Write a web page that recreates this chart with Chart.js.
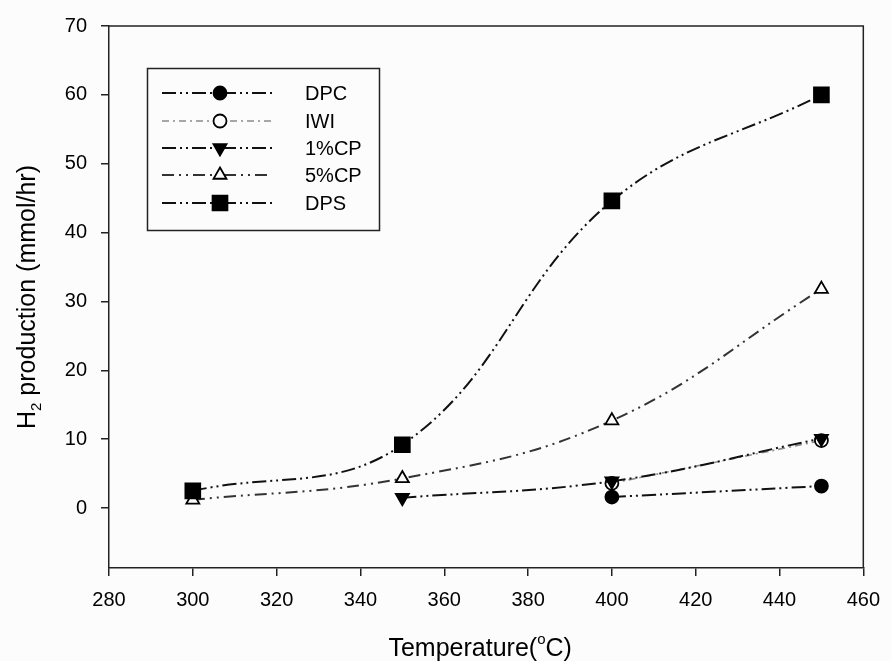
<!DOCTYPE html>
<html lang="en">

<head>
    <meta charset="UTF-8">
    <title>H2 production vs temperature</title>
    <script src="https://cdn.jsdelivr.net/npm/chart.js"></script>
    <style>
        body {
            margin: 0;
            background: #fcfcfc;
        }

        #wrap {
            width: 892px;
            height: 661px;
        }
    </style>
</head>

<body>
    <div id="wrap">
        <canvas id="h2Chart"></canvas>
    </div>

    <script>
        // temperatures (°C) and H2 production (mmol/hr), null = not measured
        const temps = [300, 350, 400, 450];
        const dpc = [null, null, 1.6, 3.2];
        const iwi = [null, null, 3.6, 9.8];
        const cp1 = [null, 1.5, 3.9, 10.1];
        const cp5 = [1.2, 4.3, 12.7, 31.8];
        const dps = [2.5, 9.2, 44.6, 60.0];
        const xTicks = [280, 300, 320, 340, 360, 380, 400, 420, 440, 460];
        const yTicks = [0, 10, 20, 30, 40, 50, 60, 70];

        const FONT = '"Liberation Sans", Arial, sans-serif';

        function pts(vals) {
            return temps.map((t, i) => ({ x: t, y: vals[i] })).filter(p => p.y !== null);
        }

        function series(label, vals, style, opts) {
            return Object.assign({
                label: label,
                data: pts(vals),
                borderColor: '#111',
                borderWidth: 2,
                pointStyle: style,
                pointRadius: 6.5,
                pointBorderWidth: 1.8,
                pointBorderColor: '#000',
                pointBackgroundColor: '#000',
                tension: 0.4,
                fill: false
            }, opts);
        }

        // lower order is drawn on top
        const datasets = [
            series('DPC', dpc, 'circle', { order: 2, borderDash: [14, 4, 2, 4, 2, 4] }),
            series('IWI', iwi, 'circle', {
                order: 4, borderColor: '#8a8a8a', borderWidth: 1.6, borderDash: [7, 4, 2, 4],
                pointBackgroundColor: '#fcfcfc'
            }),
            series('1%CP', cp1, 'triangle', { order: 1, pointRotation: 180, pointRadius: 7.5, borderDash: [14, 4, 2, 4, 2, 4] }),
            series('5%CP', cp5, 'triangle', {
                order: 3, pointRadius: 7.5, pointBackgroundColor: '#fcfcfc', borderColor: '#333',
                borderDash: [12, 5, 2, 5, 2, 5]
            }),
            series('DPS', dps, 'rect', { order: 0, pointRadius: 10.5, borderDash: [14, 4, 2, 4, 2, 4] })
        ];

        // box around the plot, legend and axis titles
        const decorations = {
            id: 'decorations',
            afterDraw(chart) {
                const ctx = chart.ctx;
                const a = chart.chartArea;
                ctx.save();
                ctx.strokeStyle = '#222';
                ctx.lineWidth = 1.5;
                ctx.beginPath();
                ctx.moveTo(a.left, a.top);
                ctx.lineTo(a.right, a.top);
                ctx.lineTo(a.right, a.bottom);
                ctx.stroke();

                // legend
                ctx.lineWidth = 1.5;
                ctx.strokeRect(147.5, 68.5, 232, 162);
                const rows = [93, 121, 148, 175, 203];
                chart.data.datasets.forEach((ds, i) => {
                    const y = rows[i];
                    ctx.save();
                    ctx.strokeStyle = ds.borderColor;
                    ctx.lineWidth = ds.borderWidth;
                    ctx.setLineDash(ds.borderDash);
                    ctx.beginPath();
                    ctx.moveTo(162, y);
                    ctx.lineTo(272, y);
                    ctx.stroke();
                    ctx.restore();
                    ctx.save();
                    ctx.fillStyle = ds.pointBackgroundColor;
                    ctx.strokeStyle = ds.pointBorderColor;
                    ctx.lineWidth = ds.pointBorderWidth;
                    Chart.helpers.drawPoint(ctx, {
                        pointStyle: ds.pointStyle,
                        rotation: ds.pointRotation || 0,
                        radius: ds.pointRadius,
                        borderWidth: ds.pointBorderWidth
                    }, 220, y);
                    ctx.restore();
                    ctx.fillStyle = '#000';
                    ctx.font = '20px ' + FONT;
                    ctx.textBaseline = 'middle';
                    ctx.textAlign = 'left';
                    ctx.fillText(ds.label, 305, y + 1);
                });

                // x title with superscript o
                ctx.fillStyle = '#000';
                ctx.textBaseline = 'alphabetic';
                ctx.textAlign = 'left';
                const big = '25px ' + FONT, small = '15px ' + FONT;
                ctx.font = big;
                const p1 = 'Temperature(', p3 = 'C)';
                const w1 = ctx.measureText(p1).width, w3 = ctx.measureText(p3).width;
                ctx.font = small;
                const w2 = ctx.measureText('o').width;
                let x = (a.left + a.right) / 2 - 6 - (w1 + w2 + w3) / 2;
                const base = 656;
                ctx.font = big;
                ctx.fillText(p1, x, base);
                ctx.font = small;
                ctx.fillText('o', x + w1, base - 12);
                ctx.font = big;
                ctx.fillText(p3, x + w1 + w2, base);

                // y title with subscript 2
                ctx.translate(35, (a.top + a.bottom) / 2);
                ctx.rotate(-Math.PI / 2);
                const q1 = 'H', q3 = ' production (mmol/hr)';
                ctx.font = big;
                const v1 = ctx.measureText(q1).width, v3 = ctx.measureText(q3).width;
                ctx.font = small;
                const v2 = ctx.measureText('2').width;
                x = -(v1 + v2 + v3) / 2;
                ctx.font = big;
                ctx.fillText(q1, x, 0);
                ctx.font = small;
                ctx.fillText('2', x + v1, 6);
                ctx.font = big;
                ctx.fillText(q3, x + v1 + v2, 0);
                ctx.restore();
            }
        };

        new Chart(document.getElementById('h2Chart'), {
            type: 'line',
            data: { datasets: datasets },
            options: {
                responsive: true,
                maintainAspectRatio: false,
                animation: false,
                layout: { padding: { top: 22, right: 24, left: 0, bottom: 0 } },
                plugins: { legend: { display: false }, tooltip: { enabled: false } },
                scales: {
                    x: {
                        type: 'linear',
                        min: 280,
                        max: 460,
                        afterBuildTicks: s => { s.ticks = xTicks.map(v => ({ value: v })); },
                        afterFit: s => { s.height = 93; },
                        ticks: { color: '#000', font: { family: FONT, size: 20 }, padding: 12, maxRotation: 0 },
                        grid: { drawOnChartArea: false, tickLength: 8, color: '#222', lineWidth: 1.5 },
                        border: { color: '#222', width: 1.5 }
                    },
                    y: {
                        min: -8.7,
                        max: 70,
                        afterBuildTicks: s => { s.ticks = yTicks.map(v => ({ value: v })); },
                        afterFit: s => { s.width = 109; },
                        ticks: { color: '#000', font: { family: FONT, size: 20 }, padding: 14 },
                        grid: { drawOnChartArea: false, tickLength: 8, color: '#222', lineWidth: 1.5 },
                        border: { color: '#222', width: 1.5 }
                    }
                }
            },
            plugins: [decorations]
        });
    </script>
</body>

</html>
